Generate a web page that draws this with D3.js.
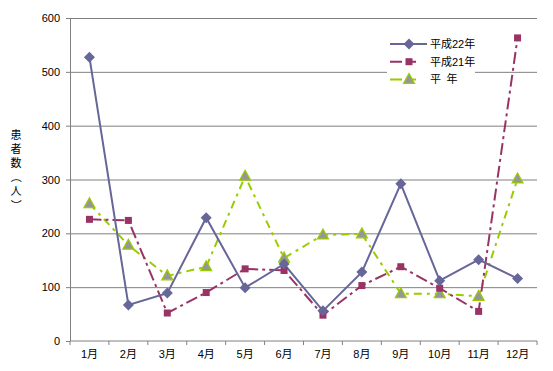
<!DOCTYPE html>
<html>
<head>
<meta charset="utf-8">
<script src="https://cdn.jsdelivr.net/npm/d3@7"></script>
<style>
  body { margin: 0; background: #fff; }
  text { font-family: "Liberation Sans", "Noto Sans CJK JP", sans-serif; }
</style>
</head>
<body>
<svg width="553" height="371"></svg>
<script>
// chart values
var months = ["1月","2月","3月","4月","5月","6月","7月","8月","9月","10月","11月","12月"];
var h22 = [527, 67, 89, 229, 99, 143, 56, 128, 292, 112, 151, 116];
var h21 = [226, 224, 52, 90, 134, 131, 48, 103, 138, 98, 55, 563];
var heinen = [255, 178, 121, 138, 306, 154, 197, 199, 88, 88, 83, 301];
var yTicks = [0, 100, 200, 300, 400, 500, 600];
var yTitle = ["患","者","数","（","人","）"];

const plotLeft = 70, plotRight = 537, plotTop = 18, plotBottom = 341;
const grey = "#808080";

var svg = d3.select("svg");

var x = d3.scaleBand().domain(months).range([plotLeft, plotRight]).padding(0);
var y = d3.scaleLinear().domain([0, 600]).range([plotBottom, plotTop]);
var cx = function(d, i){ return x(months[i]) + x.bandwidth()/2; };

// gridlines
svg.append("g")
  .attr("transform", "translate(" + plotLeft + ",0)")
  .call(d3.axisLeft(y).tickValues(yTicks.slice(1)).tickSize(-(plotRight-plotLeft)).tickFormat(""))
  .call(function(g){ g.select(".domain").remove(); g.selectAll("line").attr("stroke", grey); });

// y axis
svg.append("g")
  .attr("transform", "translate(" + plotLeft + ",0)")
  .call(d3.axisLeft(y).tickValues(yTicks).tickSize(4).tickPadding(6))
  .call(function(g){
    g.select(".domain").attr("stroke", grey).attr("d", "M0.5," + plotTop + "V" + plotBottom);
    g.selectAll("line").attr("stroke", grey);
    g.selectAll("text").attr("font-size", 11).attr("fill", "#000");
  });

// x axis
var xa = svg.append("g").attr("transform", "translate(0," + plotBottom + ")");
xa.call(d3.axisBottom(x).tickSize(0).tickPadding(9))
  .call(function(g){
    g.select(".domain").remove();
    g.selectAll("text").attr("font-size", 11).attr("fill", "#000");
  });
xa.append("line").attr("x1", plotLeft).attr("x2", plotRight).attr("stroke", grey);
xa.selectAll(".edge").data(months.map(function(m){ return x(m); }).concat([plotRight]))
  .enter().append("line")
  .attr("x1", function(d){ return d; }).attr("x2", function(d){ return d; })
  .attr("y1", 0).attr("y2", 4).attr("stroke", grey);

// y title (vertical, brackets turned sideways)
svg.selectAll(".ytitle").data(yTitle).enter().append("text")
  .attr("text-anchor", "middle").attr("dominant-baseline", "central").attr("font-size", 11)
  .attr("transform", function(d, i){
    var t = "translate(16," + (135 + i*14) + ")";
    return (d === "（" || d === "）") ? t + " rotate(90)" : t;
  })
  .text(function(d){ return d; });

var line = d3.line().x(cx).y(function(d){ return y(d); });

// 平年
svg.append("path").datum(heinen).attr("d", line)
  .attr("fill", "none").attr("stroke", "#99cc00").attr("stroke-width", 2).attr("stroke-dasharray", "8,5,3,5");
// 平成21年
svg.append("path").datum(h21).attr("d", line)
  .attr("fill", "none").attr("stroke", "#993366").attr("stroke-width", 2).attr("stroke-dasharray", "12,4,3,4");
// 平成22年
svg.append("path").datum(h22).attr("d", line)
  .attr("fill", "none").attr("stroke", "#666699").attr("stroke-width", 2);

var tri = "M0,-6L5.5,4L-5.5,4Z";
var dia = "M0,-5.5L5.5,0L0,5.5L-5.5,0Z";

svg.selectAll(".tri").data(heinen).enter().append("path")
  .attr("d", tri).attr("transform", function(d, i){ return "translate(" + cx(d, i) + "," + y(d) + ")"; })
  .attr("fill", "#969696").attr("stroke", "#99cc00").attr("stroke-width", 1.2);
svg.selectAll(".sq").data(h21).enter().append("rect")
  .attr("x", function(d, i){ return cx(d, i) - 3.5; }).attr("y", function(d){ return y(d) - 3.5; })
  .attr("width", 7).attr("height", 7).attr("fill", "#993366");
svg.selectAll(".dia").data(h22).enter().append("path")
  .attr("d", dia).attr("transform", function(d, i){ return "translate(" + cx(d, i) + "," + y(d) + ")"; })
  .attr("fill", "#666699");

// legend
var lg = svg.append("g");
lg.append("rect").attr("x", 387).attr("y", 32).attr("width", 88).attr("height", 58).attr("fill", "#fff");
var items = [
  {name: "平成22年", color: "#666699", dash: null, mark: "dia"},
  {name: "平成21年", color: "#993366", dash: "12,9,5", mark: "sq"},
  {name: "平\u2002年", color: "#99cc00", dash: "12,9,5", mark: "tri"}
];
items.forEach(function(it, i){
  var yy = 44 + i*17.7;
  lg.append("line").attr("x1", 390).attr("x2", 427).attr("y1", yy).attr("y2", yy)
    .attr("stroke", it.color).attr("stroke-width", 2).attr("stroke-dasharray", it.dash);
  if (it.mark === "dia") lg.append("path").attr("d", dia).attr("transform", "translate(409," + yy + ")").attr("fill", it.color);
  if (it.mark === "sq") lg.append("rect").attr("x", 405.5).attr("y", yy - 3.5).attr("width", 7).attr("height", 7).attr("fill", it.color);
  if (it.mark === "tri") lg.append("path").attr("d", tri).attr("transform", "translate(409," + yy + ")")
    .attr("fill", "#969696").attr("stroke", it.color).attr("stroke-width", 1.2);
  lg.append("text").attr("x", 430).attr("y", yy + 4).attr("font-size", 11).text(it.name);
});
</script>
</body>
</html>
